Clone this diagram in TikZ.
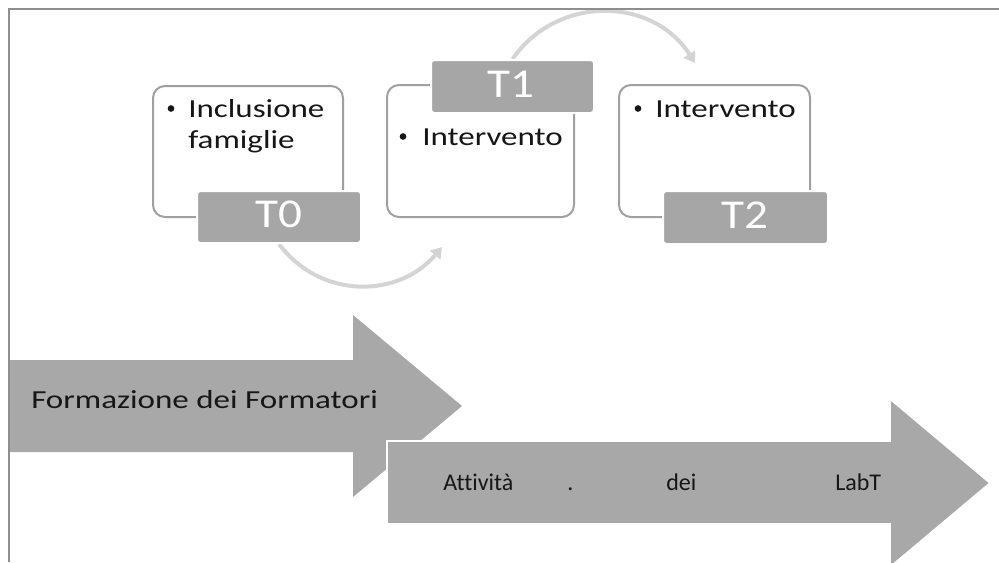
\documentclass[tikz,border=0pt]{standalone}
\usepackage{fontspec}
\setmainfont{Carlito}
\newfontfamily\cbody[FakeStretch=1.27,Ligatures=NoCommon]{Carlito}
\newfontfamily\clab[FakeStretch=1.15,Ligatures=NoCommon]{Carlito}
\newfontfamily\cplain[Ligatures=NoCommon]{Carlito}
\usetikzlibrary{fit,arrows.meta,backgrounds}
\definecolor{boxline}{HTML}{A0A0A0}
\definecolor{labfill}{HTML}{A6A6A6}
\definecolor{arrfill}{HTML}{A8A8A8}
\definecolor{curvecol}{HTML}{D4D4D4}
\definecolor{framecol}{HTML}{8E8E8E}
\definecolor{ink}{HTML}{161616}
\begin{document}
\begin{tikzpicture}[x=0.75pt,y=-0.75pt,
 card/.style={draw=boxline, line width=1.5pt, rounded corners=9pt, inner sep=0pt, fill=white},
 tag/.style={fill=labfill, draw=white, line width=1.5pt, rounded corners=2.5pt, inner sep=0pt},
 tagtext/.style={text=white, font=\clab\fontsize{30.75}{30.75}\selectfont, inner sep=0pt},
 bodytext/.style={text=ink, font=\cbody\fontsize{19.5}{23.25}\selectfont, inner sep=0pt, anchor=base west, align=left},
 bul/.style={circle, fill=ink, inner sep=0pt, minimum size=5pt},
 flow/.style={draw=curvecol, line width=3pt, -{Triangle[length=8pt,width=10pt]}},
 bigarrow/.style={fill=arrfill},
 lowtext/.style={text=ink, font=\cplain\fontsize{18}{18}\selectfont, inner sep=0pt, anchor=base west}
]
\useasboundingbox (0,0) rectangle (999,562);
\clip (0,0) rectangle (999,562);
% big arrows
\fill[bigarrow] (9,360) -- (353,360) -- (353,315) -- (462,406) -- (353,497) -- (353,452) -- (9,452) -- cycle;
\node[text=ink, font=\cbody\fontsize{19.5}{19.5}\selectfont, inner sep=0pt, anchor=base west] (fa) at (31,408) {Formazione dei Formatori};
\filldraw[bigarrow, draw=white, line width=1.2pt] (387,441) -- (890,441) -- (890,399) -- (990,483) -- (890,567) -- (890,524) -- (387,524) -- cycle;
\node[lowtext] (la1) at (443,490) {Attività};
\node[lowtext] (la2) at (567,490) {.};
\node[lowtext] (la3) at (666,490) {dei};
\node[lowtext] (la4) at (835,490) {LabT};
% cards
\node[card, fit={(153,86)(343,217)}] (c1) {};
\node[card, fit={(387,85)(574,217)}] (c2) {};
\node[card, fit={(619,85)(810,217)}] (c3) {};
% tags
\node[tag, fit={(197,191)(361,243)}] (t0) {};
\node[tagtext] (t0l) at (279,214.5) {T0};
\node[tag, fit={(431,60)(594,113)}] (t1) {};
\node[tagtext] (t1l) at (511,84) {T1};
\node[tag, fit={(663,191)(828,244)}] (t2) {};
\node[tagtext] (t2l) at (745,215) {T2};
% card texts
\node[bul] (d1) at (171,108.5) {};
\node[bodytext] (x1) at (188,148) {Inclusione\\famiglie};
\node[bul] (d2) at (403,136.5) {};
\node[bodytext] (x2) at (422,145) {Intervento};
\node[bul] (d3) at (638,108.5) {};
\node[bodytext] (x3) at (655,117) {Intervento};
% curved connectors
\coordinate (e1) at (442,247);
\coordinate (e2) at (695,63);
\begin{scope}[on background layer]
\draw[flow] (t0.south) .. controls (321,300) and (399,298) .. (e1);
\draw[flow] (t1.north) .. controls (558,-6) and (653,-3) .. (e2);
\end{scope}
% frame
\draw[framecol, line width=1.5pt] (8,9) -- (999,9);
\draw[framecol, line width=1.5pt] (9,9) -- (9,562);
\end{tikzpicture}
\end{document}
